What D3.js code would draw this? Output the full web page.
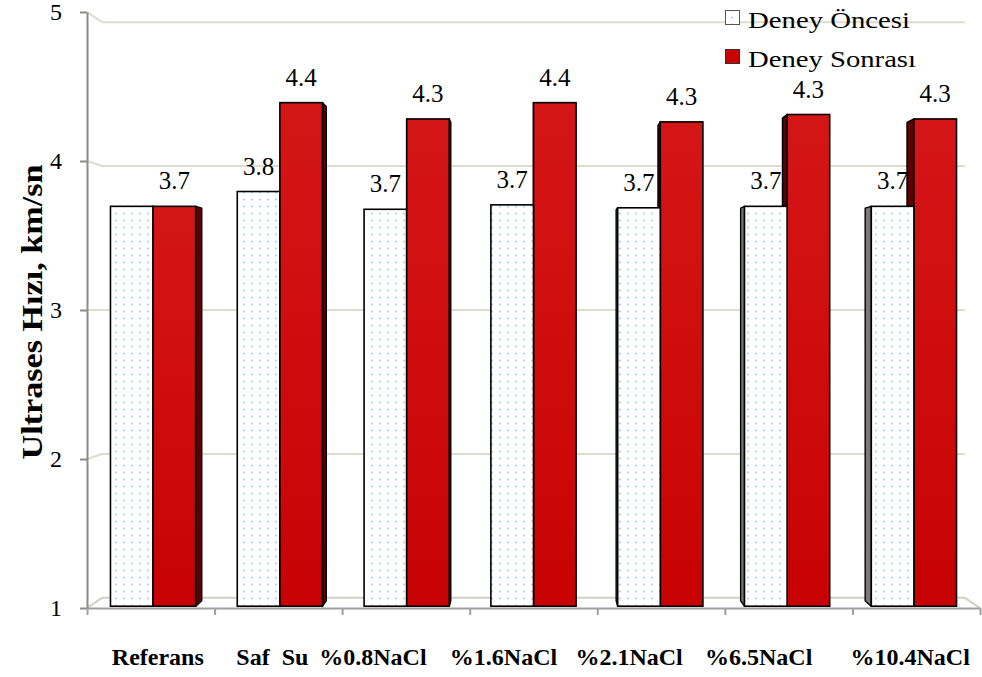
<!DOCTYPE html>
<html><head><meta charset="utf-8">
<script src="https://cdn.jsdelivr.net/npm/d3@7"></script>
<style>body{margin:0;background:#fff}svg{display:block}</style></head>
<body><svg id="c" width="982" height="677"></svg>
<script>
// ---- data ----
const categories = ["Referans", "Saf  Su", "%0.8NaCl", "%1.6NaCl", "%2.1NaCl", "%6.5NaCl", "%10.4NaCl"];
const seriesNames = ["Deney Öncesi", "Deney Sonrası"];
const beforeValues = [3.70, 3.80, 3.68, 3.71, 3.69, 3.70, 3.70];
const afterValues  = [3.70, 4.40, 4.29, 4.40, 4.27, 4.32, 4.29];
const beforeLabels = ["", "3.8", "3.7", "3.7", "3.7", "3.7", "3.7"];
const afterLabels  = ["3.7", "4.4", "4.3", "4.4", "4.3", "4.3", "4.3"];
const yTickValues = [1, 2, 3, 4, 5];
const yTitle = "Ultrases Hızı, km/sn";

// ---- layout ----
const svg = d3.select("#c");
const X0 = 87, X1 = 980, YB = 608, YT = 12;
const VP = {x: 532, y: 310};
const D_WALL = 0.034, D_F = 0.006, D_B = 0.024;
const proj = (x, yy, d) => [VP.x + (x - VP.x) * (1 - d), VP.y + (yy - VP.y) * (1 - d)];
const y = d3.scaleLinear().domain([1, 5]).range([YB, YT]);
const xb = d3.scaleBand().domain(categories).range([X0, X1]);
const xi = d3.scaleLinear().domain([0, categories.length]).range([X0, X1]);
const serif = "'Liberation Serif', 'Times New Roman', serif";

const defs = svg.append("defs");
const pat = defs.append("pattern").attr("id", "dots").attr("patternUnits", "userSpaceOnUse")
  .attr("width", 8).attr("height", 7);
pat.append("rect").attr("width", 8).attr("height", 7).attr("fill", "#fff");
pat.append("circle").attr("cx", 4).attr("cy", 3.5).attr("r", 0.9).attr("fill", "#9fc4ec");
const grad = defs.append("linearGradient").attr("id", "redg").attr("x1", 0).attr("x2", 0).attr("y1", 0).attr("y2", 1);
grad.append("stop").attr("offset", 0).attr("stop-color", "#d51616");
grad.append("stop").attr("offset", 1).attr("stop-color", "#c80202");

// ---- walls / gridlines ----
const gridColor = "#dedbcf";
yTickValues.filter(v => v > 1).forEach(v => {
  const a = [X0, y(v)], b = proj(X0, y(v), D_WALL), c = proj(X1, y(v), D_WALL);
  svg.append("polyline").attr("points", [a, b, c].map(p => p.join(",")).join(" "))
    .attr("fill", "none").attr("stroke", gridColor).attr("stroke-width", 2);
});
// floor
const fl = [[X0, YB], proj(X0, YB, D_WALL), proj(X1, YB, D_WALL), [X1, YB]];
svg.append("polyline").attr("points", fl.map(p => p.join(",")).join(" "))
  .attr("fill", "none").attr("stroke", "#d2cfc5").attr("stroke-width", 2);

// ---- axes ----
const yAxis = d3.axisLeft(y).tickValues(yTickValues).tickSize(7).tickSizeOuter(0).tickPadding(18).tickFormat(d3.format("d"));
const gy = svg.append("g").attr("transform", `translate(${X0},0)`).call(yAxis);
gy.attr("font-family", null).attr("font-size", null);
gy.selectAll("path,line").attr("stroke", "#8c8c8c").attr("stroke-width", 2);
gy.selectAll("text").style("font-family", serif).style("font-size", "24px").attr("fill", "#000");

const xAxis = d3.axisBottom(xi).tickValues(d3.range(categories.length + 1)).tickSize(7).tickSizeOuter(0).tickFormat("");
const gx = svg.append("g").attr("transform", `translate(0,${YB})`).call(xAxis);
gx.selectAll("path,line").attr("stroke", "#a0a0a0").attr("stroke-width", 2);

// ---- bars ----
const bars = [];
categories.forEach((c, i) => {
  const cx = xb(c) + xb.bandwidth() / 2, w = xb.bandwidth() * 0.336;
  bars.push({i, s: 0, v: beforeValues[i], x0: cx - w, x1: cx, label: beforeLabels[i]});
  bars.push({i, s: 1, v: afterValues[i], x0: cx, x1: cx + w, label: afterLabels[i]});
});
bars.forEach(b => b.dist = Math.abs((b.x0 + b.x1) / 2 - VP.x));
bars.sort((a, b) => b.dist - a.dist);

const gb = svg.append("g");
bars.forEach(b => {
  const yt = y(b.v), yb = y(1);
  const ftl = proj(b.x0, yt, D_F), ftr = proj(b.x1, yt, D_F), fbr = proj(b.x1, yb, D_F), fbl = proj(b.x0, yb, D_F);
  const sideCol = b.s ? "#5e0000" : "#7a7a7a";
  let side = null;
  if (ftr[0] < VP.x - 0.5) side = [ftr, proj(b.x1, yt, D_B), proj(b.x1, yb, D_B), fbr];
  else if (ftl[0] > VP.x + 0.5) side = [ftl, proj(b.x0, yt, D_B), proj(b.x0, yb, D_B), fbl];
  if (side) gb.append("polygon").attr("points", side.map(p => p.join(",")).join(" "))
    .attr("fill", sideCol).attr("stroke", "#000").attr("stroke-width", 1.4).attr("stroke-linejoin", "round");
  gb.append("rect").attr("x", ftl[0]).attr("y", ftl[1]).attr("width", ftr[0] - ftl[0]).attr("height", fbl[1] - ftl[1])
    .attr("fill", b.s ? "url(#redg)" : "url(#dots)").attr("stroke", "#000").attr("stroke-width", 1.6);
  b.cx = (ftl[0] + ftr[0]) / 2; b.top = ftl[1];
});

// value labels
svg.append("g").selectAll("text").data(bars.filter(b => b.label)).join("text")
  .attr("x", d => d.cx).attr("y", d => d.top - 17).attr("text-anchor", "middle")
  .style("font-family", serif).style("font-size", "25px").attr("fill", "#000").text(d => d.label);

// category labels
const labelNudge = [7, -6, -33, -30, -32, -30, -6];
svg.append("g").selectAll("text").data(categories).join("text")
  .attr("x", (d, i) => xb(d) + xb.bandwidth() / 2 + labelNudge[i]).attr("y", 665)
  .attr("text-anchor", "middle").style("font-family", serif).style("font-weight", "bold")
  .style("font-size", "24px").style("white-space", "pre").text(d => d);

// y title
svg.append("text").attr("transform", "translate(42,312) rotate(-90)").attr("text-anchor", "middle")
  .style("font-family", serif).style("font-weight", "bold").style("font-size", "30px")
  .attr("textLength", 295).attr("lengthAdjust", "spacingAndGlyphs").text(yTitle);

// legend
const lg = svg.append("g");
seriesNames.forEach((n, i) => {
  const yy = i ? 49 : 10;
  lg.append("rect").attr("x", 725.5).attr("y", yy + 0.5).attr("width", 14).attr("height", 14)
    .attr("fill", i ? "#c80000" : "url(#dots)").attr("stroke", i ? "#333" : "#555").attr("stroke-width", 1);
  lg.append("text").attr("x", 748).attr("y", yy + 18).style("font-family", serif).style("font-size", "23px")
    .attr("textLength", i ? 168 : 162).attr("lengthAdjust", "spacingAndGlyphs").text(n);
});
</script></body></html>
